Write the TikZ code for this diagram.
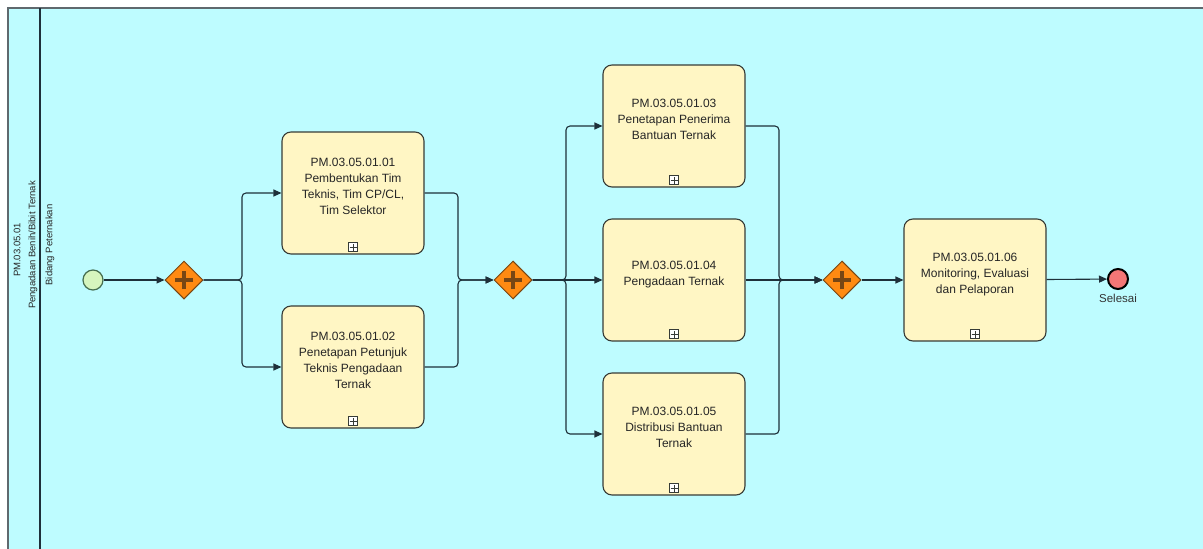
\documentclass[tikz,border=0pt]{standalone}
\usepackage{fontspec}
\setmainfont{Liberation Sans}
\usetikzlibrary{positioning, arrows.meta, shapes.geometric}
\definecolor{poolfill}{RGB}{190,252,255}
\definecolor{poolline}{RGB}{95,105,110}
\definecolor{flowline}{RGB}{30,48,58}
\definecolor{taskfill}{RGB}{255,246,196}
\definecolor{taskline}{RGB}{55,60,55}
\definecolor{gwfill}{RGB}{255,138,18}
\definecolor{gwline}{RGB}{120,70,20}
\definecolor{startfill}{RGB}{214,245,190}
\definecolor{startline}{RGB}{70,110,80}
\definecolor{endfill}{RGB}{245,118,118}

\begin{document}
\begin{tikzpicture}[x=1pt, y=-1pt,
  node distance=2pt,
  task/.style={draw=taskline, line width=1.1pt, rounded corners=9pt, fill=taskfill,
               minimum width=142pt, minimum height=122pt, align=center, text depth=14pt,
               font=\fontsize{12}{16}\selectfont, text=black!85,
               path picture={
                 \draw[sharp corners, line width=0.6pt, fill=white]
                   ([xshift=-4.5pt,yshift=2.5pt]path picture bounding box.south) rectangle ++(9pt,9pt);
                 \draw[sharp corners, line width=0.6pt]
                   ([yshift=3.5pt]path picture bounding box.south) -- ++(0,7pt)
                   ([xshift=-3.5pt,yshift=7pt]path picture bounding box.south) -- ++(7pt,0);
               }},
  gw/.style={diamond, draw=gwline, line width=1pt, fill=gwfill, minimum width=38pt,
             minimum height=38pt, inner sep=0pt,
             path picture={
               \draw[line width=4.5pt] ([xshift=-9pt]path picture bounding box.center) -- ++(18pt,0);
               \draw[line width=4.5pt] ([yshift=-9pt]path picture bounding box.center) -- ++(0,18pt);
             }},
  arrow/.style={-{Triangle[length=8pt,width=7pt]}, draw=flowline, line width=1.1pt, rounded corners=4pt},
  lane/.style={rotate=90, font=\fontsize{9.5}{11}\selectfont, text=black!85}
]
  \useasboundingbox (0,0) rectangle (1203,549);
  % pool and lane
  \fill[poolfill] (8,8) rectangle (1203,549);
  \draw[poolline, line width=1.5pt] (1203,8) -- (8,8) -- (8,549);
  \draw[flowline, line width=2pt] (40,8) -- (40,549);
  \node[lane] (pool) at (17,250) {PM.03.05.01};
  \node[lane] (poolname) at (33,245) {Pengadaan Benih/Bibit Ternak};
  \node[lane] (lane) at (50,245) {Bidang Peternakan};

  % events and gateways
  \node[circle, draw=startline, line width=1.2pt, fill=startfill, minimum size=20pt, inner sep=0pt] (start) at (93,280) {};
  \node[gw] (g1) at (184,280) {};
  \node[gw] (g2) at (513,280) {};
  \node[gw] (g3) at (842,280) {};
  \node[circle, draw=black, line width=2pt, fill=endfill, minimum size=20pt, inner sep=0pt] (end) at (1118,279) {};
  \node[below=1pt of end, font=\fontsize{11.5}{13}\selectfont, text=black!80] (endtxt) {Selesai};

  % tasks
  \node[task] (t1) at (353,193) {PM.03.05.01.01\\Pembentukan Tim\\Teknis, Tim CP/CL,\\Tim Selektor};
  \node[task] (t2) at (353,367) {PM.03.05.01.02\\Penetapan Petunjuk\\Teknis Pengadaan\\Ternak};
  \node[task] (t3) at (674,126) {PM.03.05.01.03\\Penetapan Penerima\\Bantuan Ternak};
  \node[task] (t4) at (674,280) {PM.03.05.01.04\\Pengadaan Ternak};
  \node[task] (t5) at (674,434) {PM.03.05.01.05\\Distribusi Bantuan\\Ternak};
  \node[task] (t6) at (975,280) {PM.03.05.01.06\\Monitoring, Evaluasi\\dan Pelaporan};

  % split and join points
  \coordinate (s1) at (242,280);
  \coordinate (j1) at (458,280);
  \coordinate (s2) at (566,280);
  \coordinate (j2) at (779,280);

  % flows
  \draw[arrow] (start) -- (g1);
  \draw[arrow] (g1.east) -- (s1) |- (t1.west);
  \draw[arrow] (g1.east) -- (s1) |- (t2.west);
  \draw[arrow] (t1.east) -| (j1) -- (g2.west);
  \draw[arrow] (t2.east) -| (j1) -- (g2.west);
  \draw[arrow] (g2.east) -- (s2) |- (t3.west);
  \draw[arrow] (g2.east) -- (t4.west);
  \draw[arrow] (g2.east) -- (s2) |- (t5.west);
  \draw[arrow] (t3.east) -| (j2) -- (g3.west);
  \draw[arrow] (t4.east) -- (g3.west);
  \draw[arrow] (t5.east) -| (j2) -- (g3.west);
  \draw[arrow] (g3) -- (t6);
  \draw[arrow] (t6) -- (end);
\end{tikzpicture}
\end{document}
